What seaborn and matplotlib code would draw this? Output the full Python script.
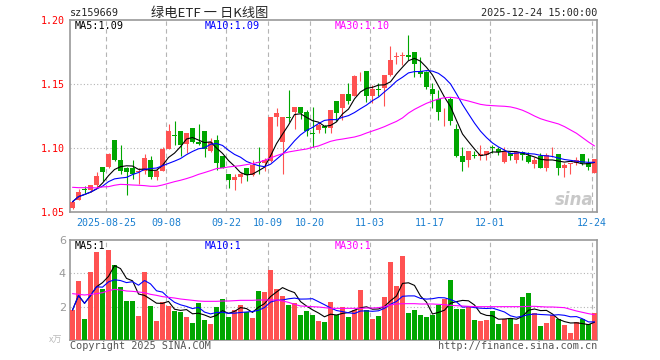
import numpy as np
import pandas as pd
import matplotlib.pyplot as plt
import seaborn as sns

# daily candles, 2025-08-15 .. 2025-12-24
opens = [1.053, 1.059, 1.068, 1.067, 1.071, 1.085, 1.085, 1.106, 1.091, 1.084,
         1.084, 1.081, 1.082, 1.091, 1.077, 1.082, 1.099, 1.110, 1.113, 1.103,
         1.116, 1.105, 1.113, 1.098, 1.106, 1.094, 1.080, 1.075, 1.077, 1.084,
         1.079, 1.089, 1.088, 1.090, 1.124, 1.105, 1.1243, 1.128, 1.132, 1.128,
         1.112, 1.114, 1.117, 1.116, 1.137, 1.131, 1.142, 1.141, 1.1568, 1.160,
         1.141, 1.1461, 1.147, 1.157, 1.1714, 1.1719, 1.173, 1.175, 1.160, 1.159,
         1.146, 1.138, 1.1224, 1.138, 1.115, 1.094, 1.091, 1.0946, 1.094, 1.0945,
         1.1005, 1.0995, 1.089, 1.096, 1.091, 1.097, 1.094, 1.0875, 1.094, 1.0846,
         1.0943, 1.0953, 1.0846, 1.0874, 1.088, 1.0953, 1.0886, 1.0807]
highs = [1.059, 1.068, 1.070, 1.071, 1.081, 1.085, 1.096, 1.106, 1.102, 1.085,
         1.091, 1.084, 1.095, 1.094, 1.084, 1.101, 1.119, 1.121, 1.113, 1.112,
         1.116, 1.119, 1.113, 1.108, 1.110, 1.094, 1.080, 1.080, 1.081, 1.084,
         1.091, 1.101, 1.092, 1.124, 1.131, 1.124, 1.145, 1.132, 1.132, 1.130,
         1.132, 1.120, 1.118, 1.130, 1.137, 1.142, 1.151, 1.157, 1.159, 1.160,
         1.149, 1.151, 1.157, 1.180, 1.175, 1.175, 1.188, 1.175, 1.1714, 1.160,
         1.151, 1.145, 1.131, 1.140, 1.119, 1.101, 1.098, 1.098, 1.102, 1.098,
         1.102, 1.1005, 1.1005, 1.097, 1.098, 1.098, 1.097, 1.093, 1.096, 1.096,
         1.1005, 1.0953, 1.088, 1.088, 1.093, 1.0953, 1.092, 1.0914]
lows = [1.052, 1.059, 1.065, 1.066, 1.069, 1.074, 1.084, 1.090, 1.080, 1.063,
        1.076, 1.072, 1.080, 1.076, 1.075, 1.082, 1.099, 1.102, 1.094, 1.096,
        1.104, 1.102, 1.093, 1.097, 1.083, 1.084, 1.069, 1.067, 1.073, 1.074,
        1.078, 1.080, 1.082, 1.089, 1.117, 1.080, 1.120, 1.115, 1.123, 1.109,
        1.101, 1.112, 1.112, 1.112, 1.121, 1.122, 1.134, 1.141, 1.152, 1.136,
        1.135, 1.141, 1.133, 1.156, 1.166, 1.165, 1.169, 1.1555, 1.1557, 1.146,
        1.131, 1.122, 1.117, 1.118, 1.093, 1.082, 1.085, 1.092, 1.091, 1.091,
        1.096, 1.0945, 1.0885, 1.091, 1.0885, 1.091, 1.088, 1.084, 1.084, 1.082,
        1.093, 1.079, 1.077, 1.0797, 1.0867, 1.0867, 1.0828, 1.0807]
closes = [1.058, 1.066, 1.067, 1.071, 1.078, 1.081, 1.095, 1.091, 1.082, 1.0815,
          1.080, 1.082, 1.092, 1.077, 1.082, 1.099, 1.113, 1.109, 1.102, 1.112,
          1.105, 1.103, 1.099, 1.105, 1.088, 1.084, 1.075, 1.077, 1.080, 1.079,
          1.087, 1.088, 1.091, 1.124, 1.127, 1.124, 1.1237, 1.132, 1.127, 1.113,
          1.111, 1.118, 1.116, 1.130, 1.127, 1.142, 1.137, 1.156, 1.1571, 1.141,
          1.146, 1.1456, 1.157, 1.169, 1.1719, 1.1722, 1.171, 1.166, 1.158, 1.148,
          1.142, 1.128, 1.1227, 1.121, 1.094, 1.089, 1.098, 1.094, 1.095, 1.098,
          1.0997, 1.097, 1.098, 1.094, 1.097, 1.0945, 1.089, 1.0906, 1.0846, 1.0945,
          1.0946, 1.0846, 1.0867, 1.0876, 1.0906, 1.0886, 1.0854, 1.0914]
ma30_price = [1.0693, 1.069, 1.069, 1.069, 1.0688, 1.0696, 1.0698, 1.0709, 1.0716, 1.0714,
              1.0711, 1.0709, 1.0706, 1.0701, 1.0701, 1.0711, 1.0724, 1.0737, 1.0748, 1.0761,
              1.0776, 1.0794, 1.0808, 1.0823, 1.0839, 1.0844, 1.0852, 1.0857, 1.0862, 1.0870,
              1.0878, 1.0888, 1.0904, 1.0922, 1.0940, 1.0956, 1.0969, 1.0977, 1.0985, 1.0992,
              1.1005, 1.1016, 1.1034, 1.1052, 1.1063, 1.1070, 1.1078, 1.1086, 1.1099, 1.1117,
              1.1133, 1.1149, 1.1167, 1.1188, 1.1208, 1.1235, 1.1273, 1.1302, 1.1326, 1.1349,
              1.1367, 1.1383, 1.1393, 1.1396, 1.1391, 1.1378, 1.1367, 1.1354, 1.1341, 1.1334,
              1.1331, 1.1328, 1.1326, 1.1321, 1.1310, 1.1295, 1.1274, 1.1250, 1.1229, 1.1214,
              1.1201, 1.1188, 1.1167, 1.1141, 1.1115, 1.1081, 1.1047, 1.1016]

# volume in 万 lots
volumes = [1.8, 3.54, 1.26, 4.08, 5.28, 3.06, 5.4, 4.5, 3.18, 2.34,
           2.34, 1.44, 4.08, 2.04, 1.14, 2.28, 2.04, 1.74, 1.68, 1.38,
           1.02, 2.22, 1.2, 0.96, 1.98, 2.46, 1.38, 1.8, 2.1, 1.68,
           1.32, 2.94, 2.88, 4.2, 3.06, 2.64, 2.1, 2.22, 1.5, 1.74,
           1.5, 1.14, 1.08, 2.28, 1.5, 1.98, 1.38, 1.8, 3.0, 1.8,
           1.26, 1.44, 2.58, 4.68, 3.24, 5.04, 1.62, 1.8, 1.5, 1.38,
           1.5, 2.1, 2.46, 3.6, 1.86, 1.86, 1.98, 1.2, 1.14, 1.2,
           1.74, 0.96, 1.26, 1.32, 0.96, 2.58, 2.82, 1.62, 0.84, 1.02,
           1.5, 1.26, 0.9, 0.42, 1.08, 1.26, 0.96, 1.62]
ma30_vol = [2.78, 2.74, 2.70, 2.74, 2.78, 2.84, 2.96, 3.04, 3.0, 2.94,
            2.92, 2.88, 2.84, 2.74, 2.68, 2.6, 2.56, 2.52, 2.46, 2.42,
            2.38, 2.34, 2.32, 2.32, 2.32, 2.34, 2.34, 2.36, 2.38, 2.38,
            2.38, 2.4, 2.4, 2.4, 2.4, 2.34, 2.26, 2.14, 2.04, 2.02,
            2.0, 1.98, 1.94, 1.9, 1.9, 1.9, 1.9, 1.9, 1.9, 1.92,
            1.92, 1.94, 2.0, 2.1, 2.16, 2.18, 2.18, 2.18, 2.16, 2.16,
            2.16, 2.14, 2.12, 2.08, 2.06, 2.04, 2.02, 2.0, 2.0, 2.0,
            2.0, 2.0, 2.0, 2.0, 2.0, 2.0, 2.02, 2.02, 2.0, 1.98,
            1.98, 1.96, 1.94, 1.84, 1.74, 1.66, 1.58, 1.52]

tick_pos = [6, 16, 26, 33, 40, 50, 60, 70, 87]
tick_labels = ["2025-08-25", "09-08", "09-22", "10-09", "10-20",
               "11-03", "11-17", "12-01", "12-24"]

RED = "#ff5252"
GREEN = "#00a600"
GRID = "#b4b4b4"
MONO = "DejaVu Sans Mono"

sns.set_theme(style="white")
plt.rcParams["font.family"] = ["Noto Sans CJK SC", "DejaVu Sans"]

df = pd.DataFrame({"o": opens, "h": highs, "l": lows, "c": closes,
                   "v": volumes, "ma30": ma30_price, "vma30": ma30_vol})
df["idx"] = np.arange(len(df))
df["ma5"] = df["c"].rolling(5, min_periods=1).mean()
df["ma10"] = df["c"].rolling(10, min_periods=1).mean()
df["vma5"] = df["v"].rolling(5, min_periods=1).mean()
df["vma10"] = df["v"].rolling(10, min_periods=1).mean()
up = df["c"] >= df["o"]
colors = np.where(up, RED, GREEN)

W, H = 660, 360
fig = plt.figure(figsize=(W / 100, H / 100), dpi=100)
ax = fig.add_axes([70 / W, 1 - 212 / H, 527 / W, 192 / H])
axv = fig.add_axes([70 / W, 1 - 340 / H, 527 / W, 100 / H])

xlim = (-0.42, 87.42)
grid_x = [p - 0.4 for p in tick_pos]

# candles
body_lo = np.minimum(df["o"], df["c"])
body_h = np.maximum(np.abs(df["c"] - df["o"]), 0.0005)
ax.vlines(df["idx"], df["l"], df["h"], colors=colors, lw=0.8, zorder=3)
ax.bar(df["idx"], body_h, bottom=body_lo, width=0.82, color=colors,
       linewidth=0, zorder=4)
for col, c in [("ma5", "black"), ("ma10", "#0000ff"), ("ma30", "#ff00ff")]:
    sns.lineplot(data=df, x="idx", y=col, ax=ax, color=c, lw=0.8, zorder=5)

# volume
axv.bar(df["idx"], df["v"], width=0.84, color=colors, linewidth=0, zorder=3)
for col, c in [("vma5", "black"), ("vma10", "#0000ff"), ("vma30", "#ff00ff")]:
    sns.lineplot(data=df, x="idx", y=col, ax=axv, color=c, lw=0.8, zorder=5)

for a, ylim, hl in [(ax, (1.05, 1.20), [1.10, 1.15]), (axv, (0, 6), [2, 4])]:
    a.set_xlim(*xlim)
    a.set_ylim(*ylim)
    a.set_xlabel("")
    a.set_ylabel("")
    for g in grid_x:
        a.axvline(g, color=GRID, lw=0.8, ls=(0, (4, 3)), zorder=1)
    for h in hl:
        a.axhline(h, color=GRID, lw=0.8, ls=(0, (1, 2)), zorder=1)
    for s in a.spines.values():
        s.set_color("#999999")
        s.set_linewidth(1.2)
    a.tick_params(length=0)

ax.set_xticks(grid_x)
ax.set_xticklabels(tick_labels, family=MONO, fontsize=7.2, color="#1a7fd0")
ax.tick_params(axis="x", pad=4)
ax.set_yticks([1.05, 1.10, 1.15, 1.20])
ax.set_yticklabels(["1.05", "1.10", "1.15", "1.20"], family=MONO,
                   fontsize=7.2, color="#ff0000")
ax.tick_params(axis="y", pad=4)

axv.set_xticks([])
axv.set_yticks([2, 4, 6])
axv.set_yticklabels(["2", "4", "6"], fontsize=8, color="#999999",
                    family="DejaVu Sans")
axv.tick_params(axis="y", pad=3)

# header
fig.text(70 / W, 1 - 13 / H, "sz159669", family=MONO, fontsize=7.3,
         va="center", ha="left")
fig.text(210 / W, 1 - 13 / H, "绿电ETF 一 日K线图", fontsize=9.5,
         va="center", ha="center", family=["Noto Sans CJK SC", "DejaVu Sans"])
fig.text(597 / W, 1 - 13 / H, "2025-12-24 15:00:00", family=MONO,
         fontsize=7.3, va="center", ha="right")

# MA captions
ma_caps = [(75, "MA5:1.09", "MA5:1", "black"),
           (205, "MA10:1.09", "MA10:1", "#0000ff"),
           (335, "MA30:1.10", "MA30:1", "#ff00ff")]
for x, t1, t2, c in ma_caps:
    fig.text(x / W, 1 - 26 / H, t1, family=MONO, fontsize=7.3, color=c,
             va="center")
    fig.text(x / W, 1 - 246 / H, t2, family=MONO, fontsize=7.3, color=c,
             va="center")

fig.text(56 / W, 1 - 340 / H, "x万", fontsize=6.5, color="#bbbbbb",
         ha="center", va="center", family=["Noto Sans CJK SC", "DejaVu Sans"])
fig.text(70 / W, 1 - 346 / H, "Copyright 2025 SINA.COM", family=MONO,
         fontsize=7.3, color="#555555", va="center")
fig.text(597 / W, 1 - 346 / H, "http://finance.sina.com.cn", family=MONO,
         fontsize=7.3, color="#555555", va="center", ha="right")
fig.text(594 / W, 1 - 200 / H, "sina", fontsize=12, color="#bbbbbb",
         style="italic", weight="bold", ha="right", va="center",
         family="DejaVu Sans", alpha=0.8)

fig.savefig("out.png", dpi=100, facecolor="white")
